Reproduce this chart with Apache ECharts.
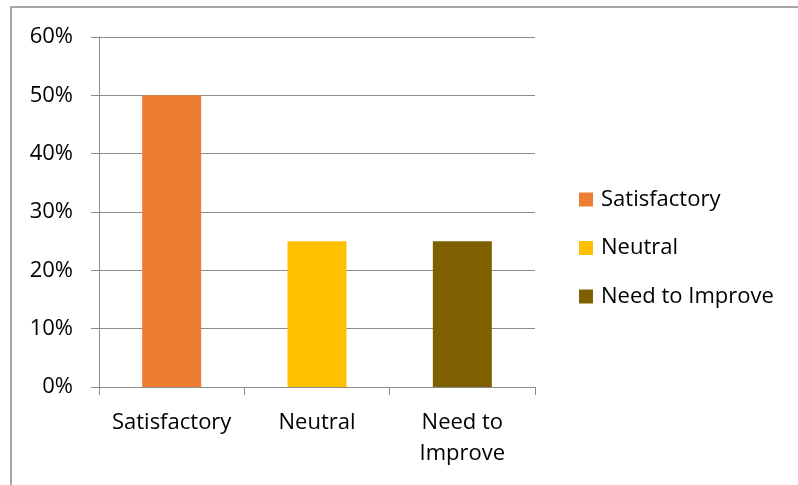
<!DOCTYPE html>
<html>
<head>
<meta charset="utf-8">
<script src="https://cdn.jsdelivr.net/npm/echarts@6/dist/echarts.min.js"></script>
<style>
  html, body { margin: 0; padding: 0; width: 798px; height: 485px; overflow: hidden; background: #fff; }
  #frame { position: absolute; left: 10px; top: 6px; width: 800px; height: 500px; border: 2px solid #a6a6a6; box-sizing: border-box; }
  #chart { position: absolute; left: 0; top: 0; width: 798px; height: 485px; }
</style>
</head>
<body>
<div id="frame"></div>
<div id="chart"></div>
<script>
// Survey response shares
const categories = ['Satisfactory', 'Neutral', 'Need to Improve'];
const axisLabels = ['Satisfactory', 'Neutral', 'Need to\nImprove'];
const shares = [50, 25, 25];
const colors = ['#ED7D31', '#FFC000', '#7F6000'];
const yTicks = [0, 10, 20, 30, 40, 50, 60];

const FONT = 'Open Sans';
const FS = 22;
const chart = echarts.init(document.getElementById('chart'), null, { renderer: 'canvas' });

// One series per category so each gets a legend entry; stacked so bars stay centred.
const series = categories.map((name, i) => ({
  name,
  type: 'bar',
  stack: 'all',
  barWidth: 59,
  itemStyle: { color: colors[i] },
  data: categories.map((_, j) => (j === i ? shares[i] : '-'))
}));

chart.setOption({
  animation: false,
  color: colors,
  grid: { left: 99, right: 263, top: 37, bottom: 98, containLabel: false },
  legend: {
    orient: 'vertical',
    left: 579,
    top: 187.5,
    padding: 0,
    itemWidth: 14,
    itemHeight: 14,
    itemGap: 24.5,
    icon: 'rect',
    data: categories,
    textStyle: { fontFamily: FONT, fontSize: FS, color: '#000', lineHeight: 24, padding: [0, 0, 0, 3] }
  },
  xAxis: {
    type: 'category',
    data: axisLabels,
    axisLine: { lineStyle: { color: '#8c8c8c', width: 1 } },
    axisTick: { show: true, alignWithLabel: false, interval: 0, length: 8, lineStyle: { color: '#8c8c8c' } },
    axisLabel: { interval: 0, fontFamily: FONT, fontSize: FS, color: '#000', margin: 20, lineHeight: 31 }
  },
  yAxis: {
    type: 'value',
    min: yTicks[0],
    max: yTicks[yTicks.length - 1],
    interval: 10,
    axisLine: { show: true, lineStyle: { color: '#8c8c8c', width: 1 } },
    axisTick: { show: true, length: 8, lineStyle: { color: '#8c8c8c' } },
    splitLine: { show: true, lineStyle: { color: '#8c8c8c', width: 1 } },
    axisLabel: { fontFamily: FONT, fontSize: FS, color: '#000', margin: 26, formatter: v => v + '%' }
  },
  series
});
</script>
</body>
</html>
